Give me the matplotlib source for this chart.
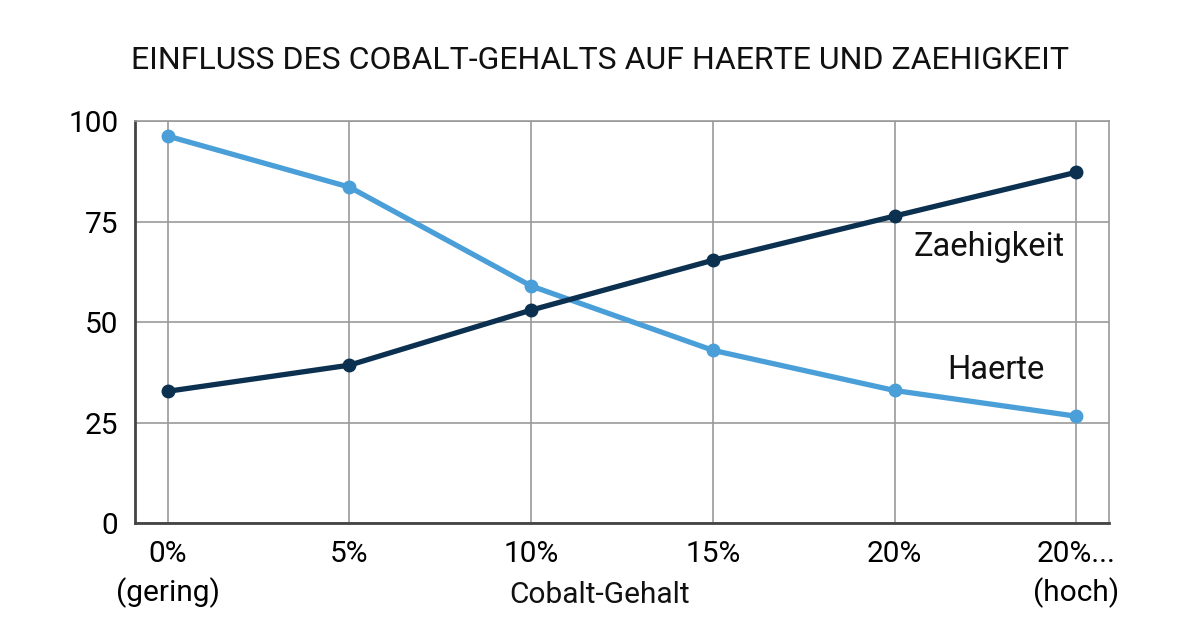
import matplotlib.pyplot as plt

plt.rcParams['font.family'] = ['Roboto', 'DejaVu Sans']

x_labels = ['0%\n(gering)', '5%', '10%', '15%', '20%', '20%...\n(hoch)']
haerte = [96.3, 83.6, 59.0, 43.0, 33.0, 26.6]
zaehigkeit = [32.8, 39.3, 53.0, 65.4, 76.4, 87.3]
y_ticks = [0, 25, 50, 75, 100]

light = '#4a9fd8'
dark = '#0b3050'

fig = plt.figure(figsize=(12, 6.28), dpi=100)
ax = fig.add_axes([0.1125, 0.167, 0.8117, 0.640])

xs = list(range(len(x_labels)))
ax.plot(xs, haerte, color=light, lw=3.8, marker='o', ms=9, zorder=3)
ax.plot(xs, zaehigkeit, color=dark, lw=3.8, marker='o', ms=9, zorder=4)

ax.set_xlim(-0.18, 5.18)
ax.set_ylim(0, 100)
ax.set_xticks(xs)
ax.set_xticklabels(x_labels, fontsize=21.5, linespacing=1.4, va='top')
ax.set_yticks(y_ticks)
ax.set_yticklabels([str(v) for v in y_ticks], fontsize=21.5)
ax.tick_params(length=0, pad=12)
ax.tick_params(axis='x', pad=12)
ax.grid(True, color='#999999', lw=1.2)
ax.set_axisbelow(True)
for s in ['top', 'right']:
    ax.spines[s].set_color('#999999')
    ax.spines[s].set_linewidth(1.2)
for s in ['left', 'bottom']:
    ax.spines[s].set_color('#444444')
    ax.spines[s].set_linewidth(2)

ax.text(4.52, 68.7, 'Zaehigkeit', fontsize=23.5, ha='center', va='center', color='#111111')
ax.text(4.56, 38.2, 'Haerte', fontsize=23.5, ha='center', va='center', color='#111111')

fig.text(0.5, 0.052, 'Cobalt-Gehalt', fontsize=21.5, ha='center', va='center', color='#111111')
fig.text(0.5, 0.903, 'EINFLUSS DES COBALT-GEHALTS AUF HAERTE UND ZAEHIGKEIT', fontsize=23,
         ha='center', va='center', color='#111111')

fig.savefig('out.png', dpi=100)
